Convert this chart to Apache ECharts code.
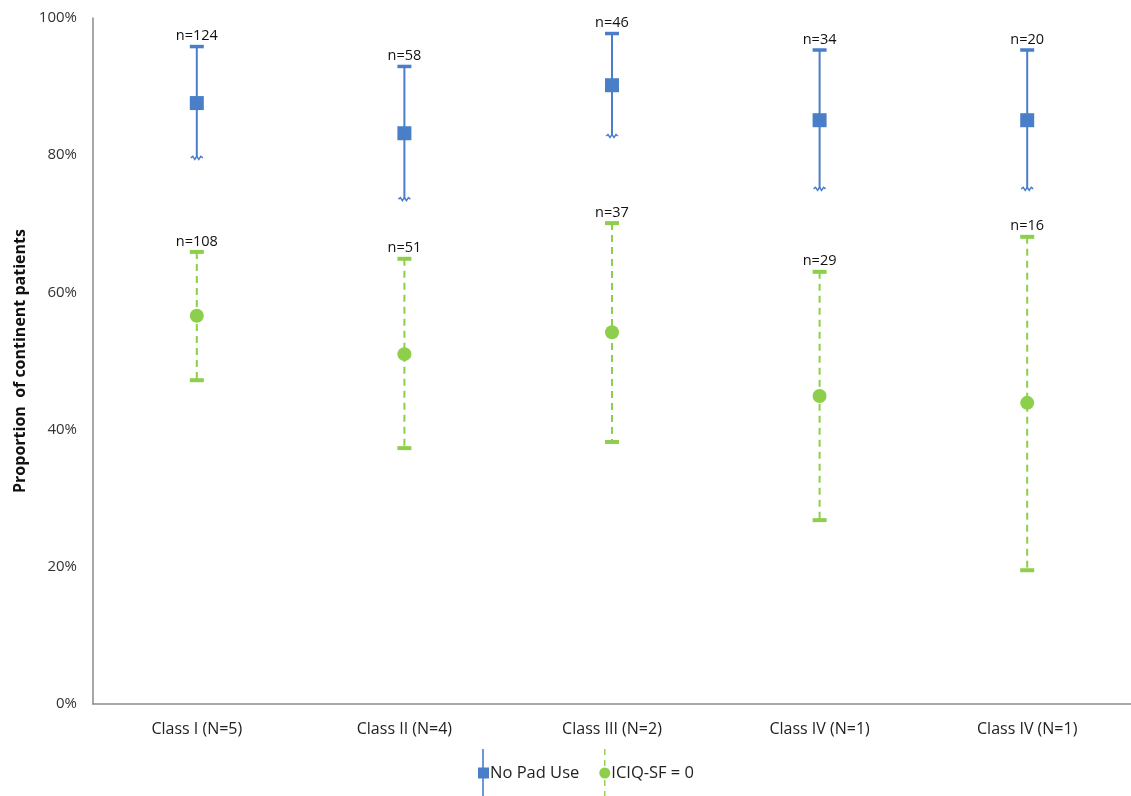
<!DOCTYPE html>
<html>
<head>
<meta charset="utf-8">
<script src="https://cdn.jsdelivr.net/npm/echarts@6/dist/echarts.min.js"></script>
<style>html,body{margin:0;padding:0;background:#fff}#c{width:1131px;height:796px}</style>
</head>
<body>
<div id="c"></div>
<script>
const categories = ['Class I (N=5)', 'Class II (N=4)', 'Class III (N=2)', 'Class IV (N=1)', 'Class IV (N=1)'];
const yTicks = [0, 20, 40, 60, 80, 100];

const padMean = [87.6, 83.2, 90.2, 85.1, 85.1];
const padLow  = [79.6, 73.6, 82.8, 75.1, 75.1];
const padHigh = [95.8, 92.9, 97.7, 95.3, 95.3];
const padN    = [124, 58, 46, 34, 20];

const iciqMean = [56.6, 51.0, 54.2, 44.9, 43.9];
const iciqLow  = [47.2, 37.3, 38.2, 26.8, 19.5];
const iciqHigh = [65.9, 64.9, 70.1, 63.0, 68.1];
const iciqN    = [108, 51, 37, 29, 16];

const BLUE = '#4a7ec8';
const GREEN = '#8dcf4a';

function errData(low, high, n) {
  return categories.map((c, i) => [i, low[i], high[i], n[i]]);
}

function makeRender(color, dashed, wavyLow) {
  return function (params, api) {
    const i = api.value(0);
    const lo = api.coord([i, api.value(1)]);
    const hi = api.coord([i, api.value(2)]);
    const x = hi[0];
    const children = [];
    children.push({
      type: 'line',
      shape: { x1: x, y1: hi[1], x2: x, y2: lo[1] },
      style: { stroke: color, lineWidth: 2, lineDash: dashed ? [7, 5] : null }
    });
    children.push({
      type: 'rect',
      shape: { x: x - 7, y: hi[1] - 2, width: 14, height: dashed ? 4 : 3.5 },
      style: { fill: color }
    });
    if (wavyLow) {
      const y = lo[1];
      children.push({
        type: 'polyline',
        shape: { points: [[x - 6, y], [x - 4, y - 1.5], [x - 2, y + 1.5], [x, y - 1.5], [x + 2, y + 1.5], [x + 4, y - 1.5], [x + 6, y]] },
        style: { stroke: color, lineWidth: 1.5, fill: null }
      });
    } else {
      children.push({
        type: 'rect',
        shape: { x: x - 7, y: lo[1] - 2, width: 14, height: 4 },
        style: { fill: color }
      });
    }
    children.push({
      type: 'text',
      style: {
        x: x, y: hi[1] - 3, text: 'n=' + api.value(3),
        textAlign: 'center', textVerticalAlign: 'bottom',
        fontSize: 14.5, fontFamily: 'Open Sans', fill: '#111'
      }
    });
    return { type: 'group', children: children };
  };
}

const padIcon = 'path://M4.2,0h1.6v48h-1.6z M0,18.5h11v11h-11z';
const iciqIcon = 'path://M4.8,0h1.4v6h-1.4z M4.8,11h1.4v6h-1.4z M4.8,31h1.4v6h-1.4z M4.8,42h1.4v6h-1.4z M0,24a5.5,5.5 0 1,0 11,0a5.5,5.5 0 1,0 -11,0z';

const chart = echarts.init(document.getElementById('c'));
chart.setOption({
  animation: false,
  backgroundColor: '#fff',
  grid: { left: 93, top: 18, width: 1044, bottom: 92, containLabel: false },
  legend: {
    bottom: -6,
    left: 473,
    itemWidth: 11,
    itemHeight: 48,
    itemGap: 20,
    textStyle: { fontSize: 16.5, fontFamily: 'Open Sans', color: '#222', padding: [0, 0, 0, -4] },
    data: [
      { name: 'No Pad Use', icon: padIcon, itemStyle: { color: BLUE } },
      { name: 'ICIQ-SF = 0', icon: iciqIcon, itemStyle: { color: GREEN } }
    ]
  },
  xAxis: {
    type: 'category',
    data: categories,
    axisLine: { show: true, lineStyle: { color: '#8a8a8a', width: 1.5 } },
    axisTick: { show: false },
    axisLabel: { fontSize: 16, fontFamily: 'Open Sans', color: '#222', margin: 17 }
  },
  yAxis: {
    type: 'value',
    min: yTicks[0],
    max: yTicks[yTicks.length - 1],
    interval: 20,
    name: 'Proportion  of continent patients',
    nameLocation: 'middle',
    nameRotate: 90,
    nameGap: 63,
    nameTextStyle: { fontSize: 16, fontWeight: 'bold', fontFamily: 'Open Sans', color: '#111' },
    axisLine: { show: true, lineStyle: { color: '#8a8a8a', width: 1.5 } },
    axisTick: { show: false },
    splitLine: { show: false },
    axisLabel: { formatter: '{value}%', fontSize: 15, fontFamily: 'Open Sans', color: '#333', margin: 16 }
  },
  series: [
    {
      name: 'No Pad Use', type: 'custom',
      renderItem: makeRender(BLUE, false, true),
      data: errData(padLow, padHigh, padN), z: 2
    },
    {
      name: 'No Pad Use', type: 'scatter', symbol: 'rect', symbolSize: 14,
      itemStyle: { color: BLUE, opacity: 1 }, data: padMean.map((v, i) => [i, v]), z: 3
    },
    {
      name: 'ICIQ-SF = 0', type: 'custom',
      renderItem: makeRender(GREEN, true, false),
      data: errData(iciqLow, iciqHigh, iciqN), z: 2
    },
    {
      name: 'ICIQ-SF = 0', type: 'scatter', symbol: 'circle', symbolSize: 14,
      itemStyle: { color: GREEN, opacity: 1 }, data: iciqMean.map((v, i) => [i, v]), z: 3
    }
  ]
});
</script>
</body>
</html>
